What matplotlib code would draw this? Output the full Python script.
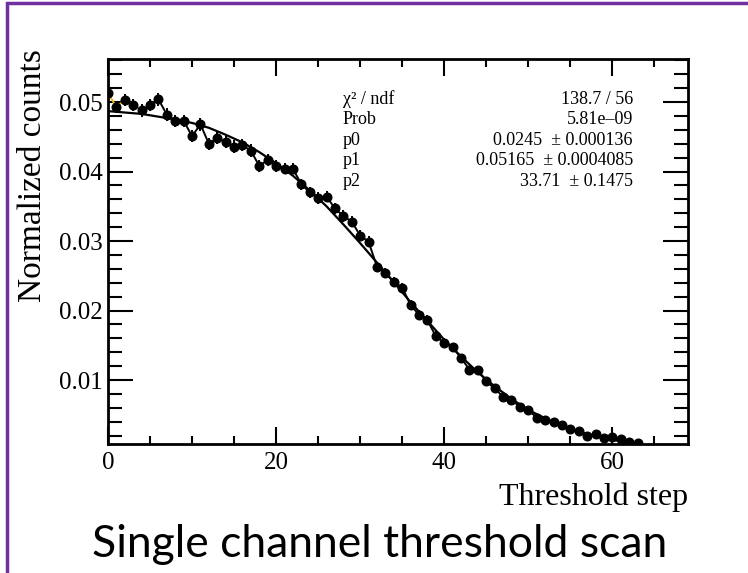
import matplotlib.pyplot as plt
import numpy as np
from matplotlib.ticker import MultipleLocator
from matplotlib.patches import Rectangle

# threshold steps and normalized counts
steps = np.arange(64)
counts = [0.0513, 0.0493, 0.0503, 0.0496, 0.0488, 0.0496, 0.0504, 0.0482,
          0.0473, 0.0473, 0.0451, 0.0468, 0.0440, 0.0448, 0.0443, 0.0436,
          0.0438, 0.0430, 0.0408, 0.0417, 0.0408, 0.0404, 0.0404, 0.0382,
          0.0370, 0.0362, 0.0364, 0.0347, 0.0336, 0.0328, 0.0308, 0.0299,
          0.0263, 0.0254, 0.0241, 0.0233, 0.0208, 0.0194, 0.0186, 0.0163,
          0.0154, 0.0147, 0.0132, 0.0115, 0.0115, 0.0098, 0.0088, 0.0076,
          0.0072, 0.0061, 0.0057, 0.0046, 0.0042, 0.0039, 0.0036, 0.0029,
          0.0026, 0.0020, 0.0022, 0.0017, 0.0018, 0.0015, 0.0011, 0.0009]
errors = [0.0009]*20 + [0.0008]*12 + [0.0007]*10 + [0.0005]*8 + [0.0004]*8 + [0.0003]*6

# fit curve
fit_x = [0, 2, 4, 6, 8, 10, 12, 14, 16, 18, 20, 22, 24, 26, 28, 30, 32,
         34, 36, 38, 40, 42, 44, 46, 48, 50, 52, 54, 56, 58, 60, 62, 63]
fit_y = [0.0487, 0.0485, 0.0483, 0.0479, 0.0475, 0.0470, 0.0463, 0.0453,
         0.0442, 0.0428, 0.0412, 0.0394, 0.0373, 0.0350, 0.0324, 0.0297,
         0.0269, 0.0241, 0.0212, 0.0185, 0.0158, 0.0134, 0.0111, 0.0091,
         0.0073, 0.0057, 0.0045, 0.0034, 0.0026, 0.0019, 0.0014, 0.0010, 0.0008]

stat_names = ["χ² / ndf", "Prob", "p0", "p1", "p2"]
stat_values = ["138.7 / 56", "5.81e–09", "0.0245  ± 0.000136",
               "0.05165  ± 0.0004085", "33.71  ± 0.1475"]

serif = "Liberation Serif"

fig = plt.figure(figsize=(7.48, 5.73), dpi=100)
ax = fig.add_axes([108/748, 1-444/573, 580/748, 385/573])

# first few segments show up yellow in the original
ax.plot(steps[:6], counts[:6], color="#e8b31c", lw=1.4, zorder=2)
ax.plot(steps[5:], counts[5:], color="black", lw=1.4, zorder=2)
ax.errorbar(steps, counts, yerr=errors, fmt="o", color="black", ms=6.2,
            elinewidth=1.4, capsize=0, zorder=3)
ax.plot(fit_x, fit_y, color="black", lw=1.6, zorder=4)

ax.set_xlim(0, 69)
ax.set_ylim(0.0008, 0.0562)
ax.xaxis.set_major_locator(MultipleLocator(20))
ax.xaxis.set_minor_locator(MultipleLocator(5))
ax.yaxis.set_major_locator(MultipleLocator(0.01))
ax.yaxis.set_minor_locator(MultipleLocator(0.002))
ax.set_yticks([0.01, 0.02, 0.03, 0.04, 0.05])
ax.set_yticklabels(["0.01", "0.02", "0.03", "0.04", "0.05"])

ax.tick_params(axis="both", which="both", direction="in", top=True, right=True,
               width=1.5, labelsize=18)
ax.tick_params(axis="x", which="major", length=12, pad=6)
ax.tick_params(axis="x", which="minor", length=6)
ax.tick_params(axis="y", which="major", length=18, pad=4)
ax.tick_params(axis="y", which="minor", length=10)
for lab in ax.get_xticklabels() + ax.get_yticklabels():
    lab.set_family(serif)
for sp in ax.spines.values():
    sp.set_linewidth(2)

ax.set_ylabel("Normalized counts", fontsize=24, family=serif, loc="top")
ax.yaxis.set_label_coords(-0.104, 1.025)
ax.set_xlabel("Threshold step", fontsize=23, family=serif, loc="right", labelpad=6)

for i, (nm, val) in enumerate(zip(stat_names, stat_values)):
    yy = 0.895 - i * 0.053
    ax.text(0.405, yy, nm, transform=ax.transAxes, fontsize=13, family=serif, va="center")
    ax.text(0.905, yy, val, transform=ax.transAxes, fontsize=13, family=serif,
            va="center", ha="right")

fig.text(380/748, 1-557/573, "Single channel threshold scan", fontsize=32,
         family="Lato", ha="center", va="baseline")

# purple frame around the slide element
fig.patches.append(Rectangle((7/748, -0.05), 1.1, 1-3/573 + 0.05, transform=fig.transFigure,
                             fill=False, edgecolor="#7030a0", lw=2.5))

fig.savefig("out.png", dpi=100)
